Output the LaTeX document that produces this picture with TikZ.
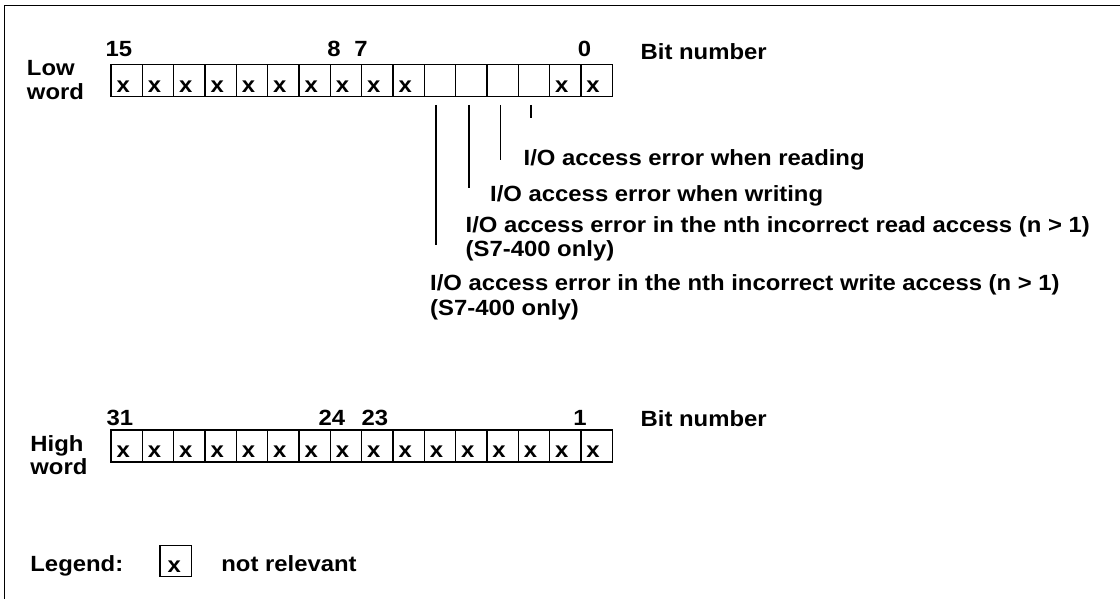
\documentclass[tikz,border=0pt]{standalone}
\usepackage{fontspec}
\setmainfont{Liberation Sans}[FakeStretch=1.085]
\begin{document}
\begin{tikzpicture}[x=1pt,y=-1pt,
  every node/.style={font=\fontsize{22}{24}\selectfont\bfseries, inner sep=0pt},
  cell/.style={draw, line width=1.1pt, minimum width=31.33pt, minimum height=32pt, text height=24pt, text depth=0pt},
  hcell/.style={cell, text height=22pt},
  lab/.style={anchor=base west},
  num/.style={anchor=base},
  lead/.style={line width=1.1pt}
]
\useasboundingbox (0,0) rectangle (1120,599);
\draw[line width=1.3pt] (4.7,599) -- (4.7,5.7) -- (1120,5.7);

% low word
\foreach \i/\t in {0/x,1/x,2/x,3/x,4/x,5/x,6/x,7/x,8/x,9/x,10/,11/,12/,13/,14/x,15/x} {
  \pgfmathsetmacro\cx{126.67+31.33*\i}
  \node[cell] (L\i) at (\cx,80.6) {\hspace*{-7pt}\t};
}
\node[num] (b15) at (118.9,56.7) {15};
\node[num] (b8) at (334,56.7) {8};
\node[num] (b7) at (361,56.7) {7};
\node[num] (b0) at (584.5,56.7) {0};
\node[lab] (bitL) at (640.5,59.3) {Bit number};
\node[lab] (low1) at (26.8,76) {Low};
\node[lab] (low2) at (26.8,99.3) {word};

% leader lines
\coordinate (t10) at (436,105);   \coordinate (e10) at (436,245);
\coordinate (t11) at (469,105);   \coordinate (e11) at (469,188);
\coordinate (t12) at (500.7,105); \coordinate (e12) at (500.7,160);
\coordinate (t13) at (531,105);   \coordinate (e13) at (531,118);
\draw[lead] (t10) -- (e10);
\draw[lead] (t11) -- (e11);
\draw[lead] (t12) -- (e12);
\draw[lead] (t13) -- (e13);

\node[lab] (d1) at (523.5,166) {I/O access error when reading};
\node[lab] (d2) at (490,201) {I/O access error when writing};
\node[lab] (d3) at (465.5,233) {I/O access error in the nth incorrect read access (n > 1)};
\node[lab] (d3b) at (465.5,256.5) {(S7-400 only)};
\node[lab] (d4) at (430,290.5) {I/O access error in the nth incorrect write access (n > 1)};
\node[lab] (d4b) at (430,315) {(S7-400 only)};

% high word
\foreach \i in {0,...,15} {
  \pgfmathsetmacro\cx{126.67+31.33*\i}
  \node[hcell] (H\i) at (\cx,446) {\hspace*{-7pt}x};
}
\node[num] (b31) at (120,425.7) {31};
\node[num] (b24) at (332,425.7) {24};
\node[num] (b23) at (375,425.7) {23};
\node[num] (b1) at (580,425.7) {1};
\node[lab] (bitH) at (640.5,426.7) {Bit number};
\node[lab] (hi1) at (30.2,451) {High};
\node[lab] (hi2) at (30.2,474) {word};

% legend
\node[lab] (leg) at (30.2,571) {Legend:};
\node[cell, minimum width=31.7pt, minimum height=31pt, text height=23pt] (legbox) at (175.8,561.2) {\hspace*{-3pt}x};
\node[lab] (nr) at (221.2,571) {not relevant};
\end{tikzpicture}
\end{document}
